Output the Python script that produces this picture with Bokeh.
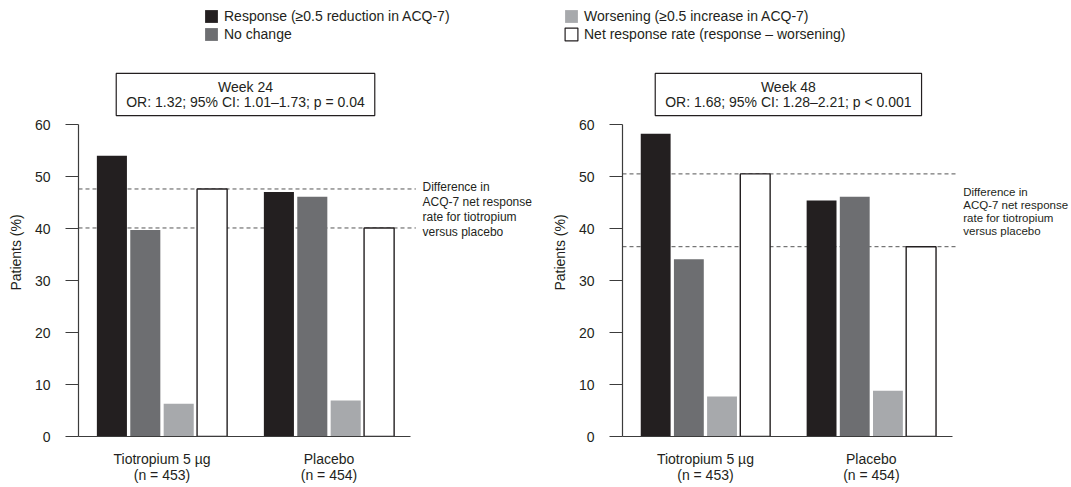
from bokeh.plotting import figure
from bokeh.models import (Range1d, Label, Legend, LegendItem,
                          FixedTicker, ColumnDataSource)
from bokeh.layouts import column, row
from bokeh.embed import file_html
from bokeh.resources import INLINE

# ---------------- data ----------------
groups = ["Tiotropium 5 µg\n(n = 453)", "Placebo\n(n = 454)"]
group_pos = [1, 2]
series = ["Response (≥0.5 reduction in ACQ-7)", "No change",
          "Worsening (≥0.5 increase in ACQ-7)",
          "Net response rate (response – worsening)"]
colors = ["#231f20", "#6d6e71", "#a7a9ac", "#ffffff"]

w24_response = [54.0, 47.0]
w24_nochange = [39.7, 46.1]
w24_worsening = [6.3, 6.9]
w24_net = [47.6, 40.1]

w48_response = [58.2, 45.4]
w48_nochange = [34.1, 46.1]
w48_worsening = [7.7, 8.8]
w48_net = [50.5, 36.5]

y_ticks = [0, 10, 20, 30, 40, 50, 60]
titles = ["Week 24\nOR: 1.32; 95% CI: 1.01–1.73; p = 0.04",
          "Week 48\nOR: 1.68; 95% CI: 1.28–2.21; p < 0.001"]
note = "Difference in\nACQ-7 net response\nrate for tiotropium\nversus placebo"

FONT = "Liberation Sans"
INK = "#231f20"
AXC = "#3c3c3c"
offsets = [-0.3, -0.1, 0.1, 0.3]
PX_PER_X = 167.0      # pixels per x unit
PX_PER_Y = 5.2        # pixels per percentage point


def panel(resp, noch, wors, net, title, width, left, note_x, note_y, note_size):
    frame_w = width - left
    y_top = 60 + 56 / PX_PER_Y
    p = figure(width=width, height=429,
               x_range=Range1d(0.5, 0.5 + frame_w / PX_PER_X),
               y_range=Range1d(0, y_top),
               output_backend="svg", toolbar_location=None,
               min_border_left=left, min_border_right=0,
               min_border_top=10, min_border_bottom=51)
    p.outline_line_color = None
    p.grid.visible = False
    p.background_fill_color = "white"

    # dashed reference lines at the net response rates
    p.segment(x0=[0.5] * len(net), x1=[2.52] * len(net), y0=net, y1=net,
              line_color="#555555", line_dash="4 3", line_width=1,
              level="underlay")

    vals = [resp, noch, wors, net]
    for v, off, col in zip(vals, offsets, colors):
        xs = [g + off for g in group_pos]
        if col == "#ffffff":
            p.vbar(x=xs, top=v, width=0.18, fill_color=col,
                   line_color=INK, line_width=1.4)
        else:
            p.vbar(x=xs, top=v, width=0.18, fill_color=col, line_color=None)

    p.add_layout(Label(x=1.5, y=65.77, text=title, text_align="center",
                       text_baseline="middle", text_font=FONT,
                       text_font_size="14px", text_color=INK,
                       text_line_height=0.88,
                       background_fill_color="white",
                       border_line_color=INK, border_line_width=1.2,
                       padding=(10, 6)))
    p.add_layout(Label(x=note_x, y=note_y, text=note,
                       text_align="left", text_baseline="middle",
                       text_font=FONT, text_font_size=note_size,
                       text_color=INK, text_line_height=1.07))

    ya = p.yaxis[0]
    ya.ticker = FixedTicker(ticks=y_ticks)
    ya.bounds = (0, 60)
    ya.axis_label = "Patients (%)"
    ya.axis_label_text_font = FONT
    ya.axis_label_text_font_size = "14px"
    ya.axis_label_text_font_style = "normal"
    ya.axis_label_text_color = INK
    ya.axis_label_standoff = 8
    ya.major_label_text_font = FONT
    ya.major_label_text_font_size = "14px"
    ya.major_label_text_color = INK
    ya.major_label_standoff = 15
    ya.major_tick_out = 13
    ya.major_tick_in = 0
    ya.minor_tick_line_color = None
    ya.axis_line_color = AXC
    ya.major_tick_line_color = AXC
    ya.axis_line_width = 1.2

    xa = p.xaxis[0]
    xa.ticker = FixedTicker(ticks=group_pos)
    xa.major_label_overrides = {g: lab for g, lab in zip(group_pos, groups)}
    xa.bounds = (0.5, 2.49)
    xa.major_tick_line_color = None
    xa.minor_tick_line_color = None
    xa.major_tick_out = 0
    xa.major_label_text_font = FONT
    xa.major_label_text_font_size = "14px"
    xa.major_label_text_color = INK
    xa.major_label_standoff = 14
    xa.major_label_text_line_height = 1.06
    xa.axis_line_color = AXC
    xa.axis_line_width = 1.2
    return p


left_p = panel(w24_response, w24_nochange, w24_worsening, w24_net,
               titles[0], 548, 78, 2.56, 43.65, "12px")
right_p = panel(w48_response, w48_nochange, w48_worsening, w48_net,
                titles[1], 523, 71, 2.554, 43.27, "11.5px")

# ---------------- legend strip ----------------
lf = figure(width=1071, height=58, x_range=Range1d(0, 1), y_range=Range1d(0, 1),
            output_backend="svg", toolbar_location=None,
            x_axis_type=None, y_axis_type=None,
            min_border=0, min_border_left=0, min_border_right=0,
            min_border_top=0, min_border_bottom=0)
lf.outline_line_color = None
lf.grid.visible = False
items = []
for name, col in zip(series, colors):
    src = ColumnDataSource(dict(x=[-10], top=[-10]))
    r = lf.vbar(x="x", top="top", width=0.1, source=src, fill_color=col,
                line_color=INK if col == "#ffffff" else None, line_width=1.2)
    items.append(LegendItem(label=name, renderers=[r]))

for its, xpos in [(items[:2], 203), (items[2:], 563)]:
    lg = Legend(items=its, location=(xpos, 16.5), orientation="vertical",
                glyph_width=16, glyph_height=16, label_standoff=5, spacing=2,
                padding=0, margin=0, border_line_color=None,
                background_fill_alpha=0, label_text_font=FONT,
                label_text_font_size="14px", label_text_color=INK,
                label_height=16)
    lf.add_layout(lg)

layout = column(lf, row(left_p, right_p))
open("out.html", "w").write(file_html(layout, INLINE))
